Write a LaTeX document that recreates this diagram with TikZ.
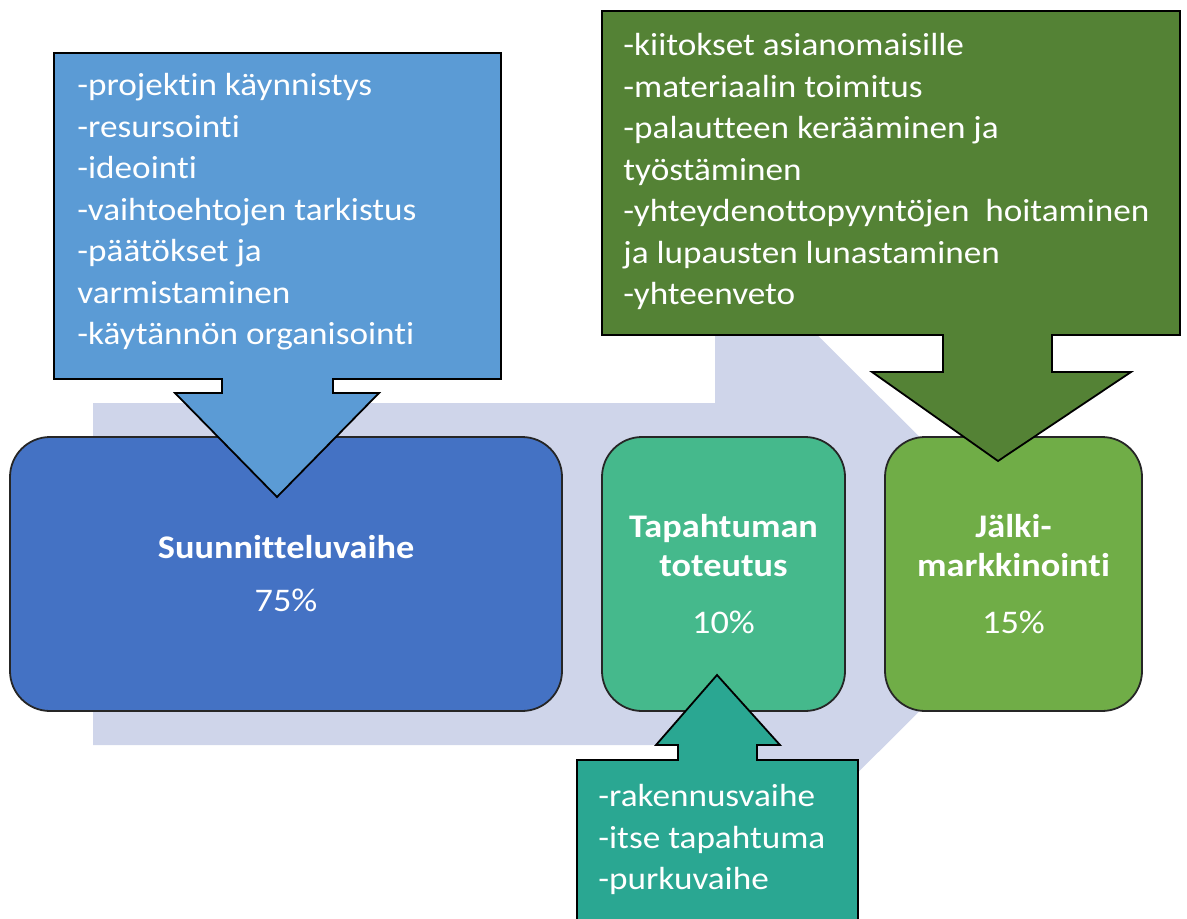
\documentclass[tikz,border=0pt]{standalone}
\usepackage{fontspec}
\setmainfont{Carlito}[FakeStretch=1.1, Ligatures=NoCommon]
\usepackage{tikz}

\definecolor{flowbg}{HTML}{CFD5EA}
\definecolor{planfill}{HTML}{4472C4}
\definecolor{plannote}{HTML}{5B9BD5}
\definecolor{eventfill}{HTML}{45B98C}
\definecolor{eventnote}{HTML}{2AA792}
\definecolor{afterfill}{HTML}{70AD47}
\definecolor{afternote}{HTML}{548235}

\begin{document}
\begin{tikzpicture}[x=0.5pt, y=-0.5pt,
  phase/.style={draw=black!85, line width=0.9pt, rounded corners=20pt, minimum height=137pt, text=white, align=center, font=\fontsize{16.5}{19.5}\selectfont},
  note/.style={draw=black, line width=0.9pt},
  notetext/.style={anchor=north west, inner sep=0pt, text=white, align=left, font=\fontsize{16}{20.75}\selectfont}]
\useasboundingbox (0,0) rectangle (1187,919);
% background arrow
\fill [flowbg] (93,403) -- (715,403) -- (715,233) -- (1057,574) -- (715,915) -- (715,745) -- (93,745) -- cycle;
% phases
\node[phase, fill=planfill, minimum width=276pt] (plan) at (286,574) {\textbf{Suunnitteluvaihe}\\[7pt]75\%};
\node[phase, fill=eventfill, minimum width=121.5pt] (event) at (723.5,574) {\textbf{Tapahtuman}\\\textbf{toteutus}\\[9pt]10\%};
\node[phase, fill=afterfill, minimum width=128.5pt] (after) at (1013.5,574) {\textbf{Jälki-}\\\textbf{markkinointi}\\[9pt]15\%};
% callouts
\filldraw [note, fill=plannote] (54,53) -- (501,53) -- (501,379) -- (333,379) -- (333,393) -- (379,393) -- (277,497) -- (175,393) -- (222,393) -- (222,379) -- (54,379) -- cycle;
\filldraw [note, fill=afternote] (602,11) -- (1180,11) -- (1180,335) -- (1052,335) -- (1052,372) -- (1131,372) -- (998,461) -- (872,372) -- (943,372) -- (943,335) -- (602,335) -- cycle;
\filldraw [note, fill=eventnote] (577,930) -- (577,760) -- (678,760) -- (678,745) -- (656,745) -- (717,675) -- (780,745) -- (757,745) -- (757,760) -- (858,760) -- (858,930) -- cycle;
% labels
\node[notetext] (plantext) at (77,73) {-projektin käynnistys\\-resursointi\\-ideointi\\-vaihtoehtojen tarkistus\\-päätökset ja\\varmistaminen\\-käytännön organisointi};
\node[notetext] (aftertext) at (623,33) {-kiitokset asianomaisille\\-materiaalin toimitus\\-palautteen kerääminen ja\\työstäminen\\-yhteydenottopyyntöjen\ \ hoitaminen\\ja lupausten lunastaminen\\-yhteenveto};
\node[notetext] (eventtext) at (598,784) {-rakennusvaihe\\-itse tapahtuma\\-purkuvaihe};
\end{tikzpicture}
\end{document}
